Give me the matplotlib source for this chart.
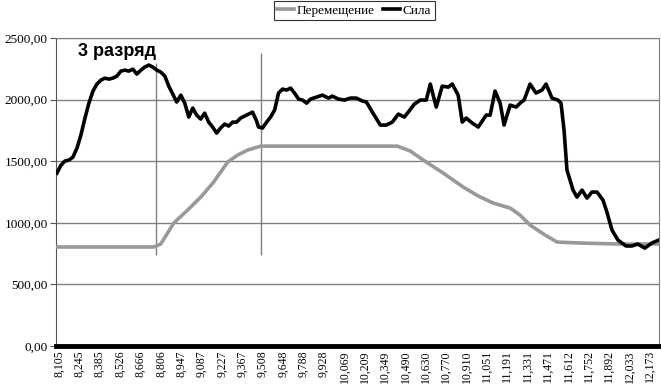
# График: перемещение и сила, 3 разряд
import matplotlib
matplotlib.use("Agg")
from matplotlib import pyplot as plt

# подписи оси X (категории)
x_labels = ["8,105", "8,245", "8,385", "8,526", "8,666", "8,806", "8,947",
            "9,087", "9,227", "9,367", "9,508", "9,648", "9,788", "9,928",
            "10,069", "10,209", "10,349", "10,490", "10,630", "10,770",
            "10,910", "11,051", "11,191", "11,331", "11,471", "11,612",
            "11,752", "11,892", "12,033", "12,173"]
x_ticks = [float(s.replace(",", ".")) for s in x_labels]

# сила (черная линия)
force_t = [8.091, 8.119, 8.146, 8.174, 8.201, 8.229, 8.256, 8.284, 8.311,
           8.339, 8.366, 8.394, 8.421, 8.449, 8.476, 8.504, 8.531, 8.559,
           8.586, 8.614, 8.641, 8.669, 8.696, 8.724, 8.751, 8.779, 8.806,
           8.834, 8.861, 8.889, 8.916, 8.944, 8.971, 8.999, 9.026, 9.053,
           9.081, 9.108, 9.136, 9.163, 9.191, 9.218, 9.246, 9.273, 9.301,
           9.328, 9.356, 9.383, 9.411, 9.438, 9.466, 9.479, 9.507, 9.535,
           9.562, 9.590, 9.617, 9.645, 9.672, 9.700, 9.727, 9.755, 9.782,
           9.810, 9.837, 9.878, 9.919, 9.961, 9.988, 10.029, 10.071, 10.112,
           10.153, 10.194, 10.222, 10.263, 10.318, 10.359, 10.400, 10.442,
           10.483, 10.510, 10.552, 10.593, 10.634, 10.662, 10.703, 10.744,
           10.786, 10.813, 10.854, 10.882, 10.909, 10.951, 10.992, 11.019,
           11.047, 11.074, 11.108, 11.143, 11.170, 11.212, 11.253, 11.280,
           11.308, 11.349, 11.390, 11.431, 11.459, 11.500, 11.541, 11.562,
           11.583, 11.603, 11.624, 11.645, 11.672, 11.707, 11.741, 11.775,
           11.810, 11.851, 11.878, 11.913, 11.954, 12.009, 12.050, 12.091,
           12.139, 12.187, 12.235]
force = [1404, 1469, 1502, 1510, 1534, 1607, 1713, 1851, 1972,
         2070, 2127, 2159, 2175, 2167, 2175, 2192, 2232, 2240,
         2232, 2248, 2208, 2240, 2265, 2281, 2265, 2240, 2224,
         2192, 2110, 2045, 1981, 2037, 1972, 1859, 1932, 1875,
         1843, 1891, 1818, 1778, 1729, 1770, 1802, 1786, 1818,
         1818, 1851, 1867, 1883, 1899, 1826, 1778, 1770, 1818,
         1859, 1916, 2054, 2086, 2078, 2094, 2054, 2005, 1997,
         1972, 2005, 2021, 2037, 2013, 2029, 2005, 1997, 2013,
         2013, 1989, 1981, 1899, 1794, 1794, 1818, 1883,
         1859, 1899, 1964, 1997, 1997, 2127, 1940, 2110,
         2102, 2127, 2037, 1818, 1851, 1810, 1778, 1826,
         1875, 1875, 2070, 1972, 1794, 1956, 1940, 1972,
         1997, 2127, 2054, 2078, 2127, 2013, 1997, 1972,
         1753, 1429, 1347, 1266, 1209, 1266, 1201, 1250,
         1250, 1185, 1088, 942, 860, 812, 812, 828,
         795, 836, 860]

# перемещение (серая линия)
move_t = [8.091, 8.758, 8.806, 8.895, 8.991, 9.081, 9.170, 9.267, 9.335,
          9.404, 9.493, 10.435, 10.524, 10.613, 10.751, 10.888, 10.992,
          11.095, 11.212, 11.280, 11.349, 11.452, 11.535, 11.693, 11.968,
          12.235]
move = [804, 804, 828, 998, 1104, 1209, 1331, 1494, 1550,
        1591, 1623, 1623, 1583, 1510, 1404, 1291, 1218,
        1161, 1120, 1063, 982, 901, 844, 836, 828,
        828]

# вертикальные отметки
mark_t = [8.772, 9.498]
mark_top = [2297, 2378]
mark_bottom = [739, 739]

y_ticks = [0, 500, 1000, 1500, 2000, 2500]

fig = plt.figure(figsize=(6.61, 3.85), dpi=100)
ax = fig.add_axes([0.0847, 0.1013, 0.912, 0.7997])

for v in y_ticks[1:]:
    ax.axhline(v, color="#808080", linewidth=1.0, zorder=1)

ax.vlines(mark_t, mark_bottom, mark_top, color="#808080",
          linewidth=1.0, zorder=1)

ax.plot(move_t, move, color="#999999", linewidth=2.6,
        label="Перемещение", zorder=3)
ax.plot(force_t, force, color="black", linewidth=2.6,
        label="Сила", zorder=4)

ax.set_xlim(8.0844, 12.2356)
ax.set_ylim(0, 2500)

ax.set_xticks(x_ticks)
ax.set_xticklabels(x_labels, rotation=90, family="Liberation Serif",
                   fontsize=8.5)
ax.tick_params(axis="x", length=0, pad=3)

ax.set_yticks(y_ticks)
ax.set_yticklabels([f"{v},00" for v in y_ticks],
                   family="Liberation Serif", fontsize=9.5)
ax.tick_params(axis="y", length=4, width=0.8, color="#555555", pad=2)

ax.spines["left"].set_color("#555555")
ax.spines["left"].set_linewidth(0.8)
ax.spines["top"].set_color("#808080")
ax.spines["right"].set_color("#808080")
ax.spines["bottom"].set_color("black")
ax.spines["bottom"].set_linewidth(3.5)

ax.text(0.036, 0.985, "3 разряд", transform=ax.transAxes,
        family="Liberation Sans", fontweight="bold", fontsize=13,
        va="top", ha="left")

leg = fig.legend(loc="upper center", bbox_to_anchor=(0.536, 0.997),
                 ncol=2, frameon=True, fancybox=False, edgecolor="black",
                 prop={"family": "Liberation Serif", "size": 9.5},
                 handlelength=1.3, handletextpad=0.2, columnspacing=0.6,
                 borderpad=0.25, borderaxespad=0)
leg.get_frame().set_linewidth(0.8)

fig.savefig("out.png", dpi=100)
